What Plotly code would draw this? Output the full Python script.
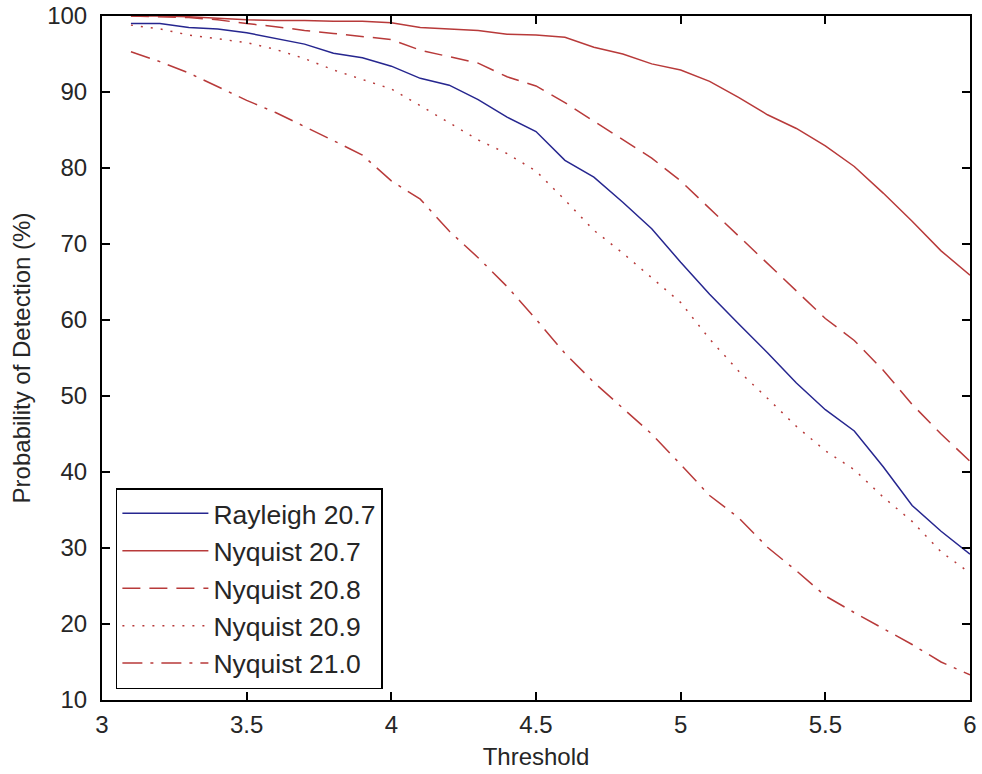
import plotly.graph_objects as go

# Detection threshold values
threshold = [3.1, 3.2, 3.3, 3.4, 3.5, 3.6, 3.7, 3.8, 3.9, 4.0,
             4.1, 4.2, 4.3, 4.4, 4.5, 4.6, 4.7, 4.8, 4.9, 5.0,
             5.1, 5.2, 5.3, 5.4, 5.5, 5.6, 5.7, 5.8, 5.9, 6.0]

# Probability of detection (%) for each receiver/sampling case
rayleigh_207 = [99.0, 99.0, 98.5, 98.3, 97.8, 97.1, 96.3, 95.1, 94.5, 93.4,
                91.8, 90.9, 89.0, 86.7, 84.8, 81.0, 78.8, 75.5, 72.0, 67.6,
                63.4, 59.5, 55.7, 51.7, 48.2, 45.4, 40.7, 35.6, 32.2, 29.2]
nyquist_207 = [100.0, 100.0, 99.9, 99.7, 99.5, 99.4, 99.4, 99.3, 99.3, 99.1,
               98.5, 98.3, 98.1, 97.6, 97.5, 97.2, 95.9, 95.0, 93.7, 92.9,
               91.4, 89.3, 87.0, 85.2, 82.9, 80.2, 76.7, 73.0, 69.1, 65.9]
nyquist_208 = [100.0, 99.9, 99.8, 99.5, 99.0, 98.6, 98.1, 97.7, 97.3, 96.9,
               95.5, 94.6, 93.8, 92.0, 90.8, 88.6, 86.2, 83.7, 81.3, 78.3,
               74.7, 71.0, 67.4, 63.8, 60.2, 57.3, 53.4, 48.9, 45.0, 41.4]
nyquist_209 = [98.8, 98.3, 97.5, 97.0, 96.5, 95.6, 94.4, 92.9, 91.7, 90.4,
               88.2, 86.0, 83.7, 81.9, 79.6, 75.8, 71.8, 68.8, 65.5, 62.3,
               57.5, 53.3, 49.7, 46.0, 42.8, 40.3, 36.7, 33.5, 29.5, 26.7]
nyquist_210 = [95.3, 94.0, 92.5, 90.7, 88.9, 87.3, 85.5, 83.6, 81.7, 78.3,
               75.9, 71.7, 68.2, 64.4, 60.1, 55.6, 51.8, 48.4, 45.0, 41.0,
               36.9, 34.0, 30.1, 27.0, 23.7, 21.5, 19.4, 17.3, 15.0, 13.3]

series_names = ["Rayleigh 20.7", "Nyquist 20.7", "Nyquist 20.8",
                "Nyquist 20.9", "Nyquist 21.0"]
series_values = [rayleigh_207, nyquist_207, nyquist_208, nyquist_209, nyquist_210]

x_ticks = [3, 3.5, 4, 4.5, 5, 5.5, 6]
x_tick_text = ["3", "3.5", "4", "4.5", "5", "5.5", "6"]
y_ticks = [10, 20, 30, 40, 50, 60, 70, 80, 90, 100]

BLUE = "#26268f"
RED = "#b83a3a"
styles = [
    dict(color=BLUE, dash="solid"),
    dict(color=RED, dash="solid"),
    dict(color=RED, dash="18px,9px"),
    dict(color=RED, dash="2px,8px"),
    dict(color=RED, dash="20px,8px,3px,8px"),
]

FONT = "Liberation Sans, Arial, Helvetica, sans-serif"
TEXT = "#262626"

fig = go.Figure()
for name, vals, st in zip(series_names, series_values, styles):
    fig.add_trace(go.Scatter(
        x=threshold, y=vals, name=name, mode="lines",
        line=dict(color=st["color"], dash=st["dash"], width=1.5),
    ))

axis_common = dict(
    showline=True, linecolor="#000", linewidth=2, mirror="ticks",
    ticks="inside", ticklen=8, tickwidth=2, tickcolor="#000",
    showgrid=False, zeroline=False, automargin=False,
    tickfont=dict(family=FONT, size=24, color=TEXT),
)

fig.update_layout(
    width=982, height=774,
    margin=dict(l=102, r=12, t=16, b=74),
    paper_bgcolor="white", plot_bgcolor="white",
    xaxis=dict(range=[3, 6], tickvals=x_ticks, ticktext=x_tick_text,
               ticklabelstandoff=2,
               title=dict(text="Threshold", font=dict(family=FONT, size=24, color=TEXT),
                          standoff=11),
               **axis_common),
    yaxis=dict(range=[10, 100], tickvals=y_ticks, ticklabelstandoff=8,
               title=dict(text="Probability of Detection (%)",
                          font=dict(family=FONT, size=24, color=TEXT), standoff=10),
               **axis_common),
    legend=dict(
        x=0.016, y=0.016, xanchor="left", yanchor="bottom",
        bgcolor="white", bordercolor="#000", borderwidth=1.5,
        font=dict(family=FONT, size=26.5, color=TEXT),
        itemwidth=86, tracegroupgap=0,
    ),
    showlegend=True,
)

fig.write_html("out.html")
